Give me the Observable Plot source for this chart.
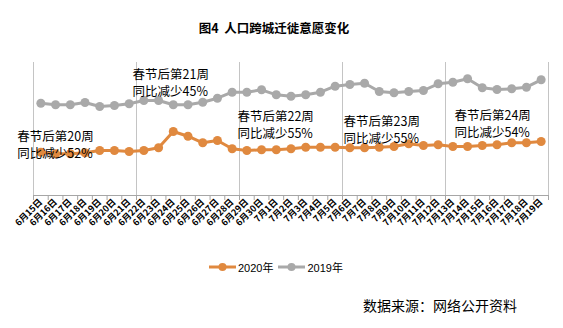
<!DOCTYPE html>
<html>
<head>
<meta charset="utf-8">
<script src="https://cdn.jsdelivr.net/npm/d3@7"></script>
<script src="https://cdn.jsdelivr.net/npm/@observablehq/plot@0.6"></script>
<style>
  body { margin: 0; background: #fff; }
  #wrap { position: relative; width: 563px; height: 328px; overflow: hidden; background: #fff;
          font-family: "Noto Sans CJK SC", "Noto Sans", sans-serif; color: #000; }
  #chart { position: absolute; left: 0; top: 0; }
  #title { position: absolute; top: 19px; left: 0; width: 548px; text-align: center;
           font-weight: bold; font-size: 12.5px; line-height: 18px; white-space: pre; }
  #legend { position: absolute; left: 209px; top: 259px; height: 16px; display: flex; align-items: center;
            font-size: 11px; font-family: "Liberation Sans", "Noto Sans CJK SC", sans-serif; }
  #legend .item { display: flex; align-items: center; margin-right: 5px; }
  #legend svg { margin-right: 2px; }
  #source { position: absolute; left: 363px; top: 296px; font-size: 14px; line-height: 18px; }
</style>
</head>
<body>
<div id="wrap">
  <div id="chart"></div>
  <div id="title">图4  人口跨城迁徙意愿变化</div>
  <div id="legend"></div>
  <div id="source">数据来源：网络公开资料</div>
</div>
<script>
// Category tick labels (daily, 5 weeks)
const dates = [
  "6月15日","6月16日","6月17日","6月18日","6月19日","6月20日","6月21日",
  "6月22日","6月23日","6月24日","6月25日","6月26日","6月27日","6月28日",
  "6月29日","6月30日","7月1日","7月2日","7月3日","7月4日","7月5日",
  "7月6日","7月7日","7月8日","7月9日","7月10日","7月11日","7月12日",
  "7月13日","7月14日","7月15日","7月16日","7月17日","7月18日","7月19日"
];
// Series values (relative migration index)
const v2020 = [43.3,41.7,41.7,42.7,45,45,44, 45,47.7,64,59.3,52.7,55,46.7,
  45,45.7,45.7,46.7,48.3,48.3,48.3, 47.7,47.7,48.3,49,51.7,50,50.7,
  49,49,50,50.7,52.7,52.7,54];
const v2019 = [92.3,90.7,90.7,93,89,90,91.7, 95,95,90.7,90.7,93.3,97.3,103.3,
  103.3,105.7,100.7,99.3,100.7,103.3,109.3, 111,112.3,104,102.7,104,105,111.7,
  113.3,116.7,107.7,106,106.7,108.3,115.7];
// Week separators (category boundaries)
const weekStarts = [0, 7, 14, 21, 28, 35];
// Annotations
const annText = [
  "春节后第20周\n同比减少52%",
  "春节后第21周\n同比减少45%",
  "春节后第22周\n同比减少55%",
  "春节后第23周\n同比减少55%",
  "春节后第24周\n同比减少54%"
];
const annX = [-1.1, 6.73, 13.86, 21.07, 28.61];
const annY = [51.5, 113, 71, 66.7, 72];

const seriesNames = ["2020年", "2019年"];
const seriesColors = ["#E0893F", "#A9A9A9"];

const rows = dates.map((d, k) => ({pos: k + 0.5, date: d, a: v2020[k], b: v2019[k]}));
const boundaries = d3.range(dates.length + 1);
const font = '"Noto Sans CJK SC", "Noto Sans", sans-serif';

const chart = Plot.plot({
  width: 563,
  height: 328,
  marginTop: 62,
  marginBottom: 133,
  marginLeft: 33,
  marginRight: 15,
  style: {fontFamily: font, background: "transparent"},
  x: {type: "linear", domain: [0, dates.length], axis: null},
  y: {domain: [0, 133], axis: null},
  marks: [
    Plot.ruleX(weekStarts, {stroke: "#c4c4c4", strokeWidth: 1}),
    Plot.ruleY([0], {stroke: "#a6a6a6", strokeWidth: 1}),
    Plot.axisX(boundaries, {tickSize: 5, tickFormat: () => "", stroke: "#a6a6a6", label: null}),
    Plot.axisX(rows.map(r => r.pos), {
      tickSize: 0, tickPadding: 5, tickRotate: -45, label: null,
      tickFormat: t => dates[Math.floor(t)], fontSize: 9, fill: "#000", fontWeight: "bold"
    }),
    Plot.line(rows, {x: "pos", y: "b", stroke: seriesColors[1], strokeWidth: 3}),
    Plot.dot(rows, {x: "pos", y: "b", r: 4.5, fill: seriesColors[1]}),
    Plot.line(rows, {x: "pos", y: "a", stroke: seriesColors[0], strokeWidth: 3}),
    Plot.dot(rows, {x: "pos", y: "a", r: 4.5, fill: seriesColors[0]}),
    Plot.text(annText, {
      x: (d, k) => annX[k], y: (d, k) => annY[k], text: d => d,
      textAnchor: "start", fontSize: 12.5, lineHeight: 1.35, fill: "#000"
    })
  ]
});
document.getElementById("chart").appendChild(chart);

// Legend
const legend = document.getElementById("legend");
seriesNames.forEach((name, k) => {
  const item = document.createElement("div");
  item.className = "item";
  item.innerHTML = `<svg width="27" height="10"><line x1="0" x2="27" y1="5" y2="5" stroke="${seriesColors[k]}" stroke-width="3"/><circle cx="13.5" cy="5" r="4" fill="${seriesColors[k]}"/></svg><span>${name}</span>`;
  legend.appendChild(item);
});
</script>
</body>
</html>
